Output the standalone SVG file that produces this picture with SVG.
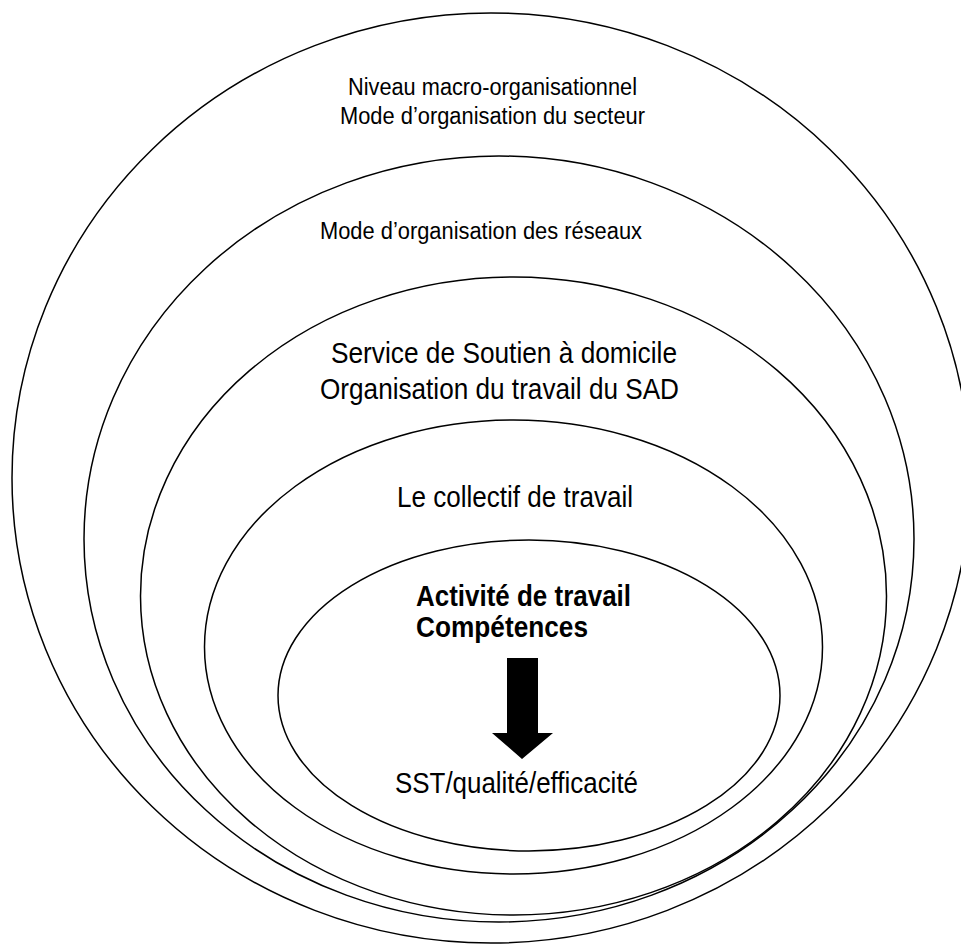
<svg xmlns="http://www.w3.org/2000/svg" width="961" height="945" viewBox="0 0 961 945">
  <style>
    .ring { fill: none; stroke: #000; stroke-width: 1.5; }
    .lbl { font-family: "Liberation Sans", Arial, sans-serif; fill: #000; }
    .c { text-anchor: middle; }
    .b { font-weight: bold; }
  </style>
  <rect x="0" y="0" width="961" height="945" fill="#fff"/>
  <g id="level-macro">
    <ellipse class="ring" cx="491" cy="478" rx="479" ry="465"/>
    <text class="lbl c" x="492.5" y="95" font-size="23" textLength="289" lengthAdjust="spacingAndGlyphs">Niveau macro-organisationnel</text>
    <text class="lbl c" x="492.5" y="124" font-size="23" textLength="305" lengthAdjust="spacingAndGlyphs">Mode d’organisation du secteur</text>
  </g>
  <g id="level-reseaux">
    <ellipse class="ring" cx="499" cy="539" rx="415" ry="383"/>
    <text class="lbl c" x="481" y="239" font-size="23" textLength="322" lengthAdjust="spacingAndGlyphs">Mode d’organisation des réseaux</text>
  </g>
  <g id="level-sad">
    <ellipse class="ring" cx="513.5" cy="596" rx="373" ry="319"/>
    <text class="lbl c" x="504" y="363" font-size="29" textLength="346" lengthAdjust="spacingAndGlyphs">Service de Soutien à domicile</text>
    <text class="lbl c" x="499.5" y="399" font-size="29" textLength="359" lengthAdjust="spacingAndGlyphs">Organisation du travail du SAD</text>
  </g>
  <g id="level-collectif">
    <ellipse class="ring" cx="513.5" cy="647" rx="309" ry="227"/>
    <text class="lbl c" x="515" y="507" font-size="29" textLength="236" lengthAdjust="spacingAndGlyphs">Le collectif de travail</text>
  </g>
  <g id="level-activite">
    <ellipse class="ring" cx="529" cy="695.5" rx="251" ry="155.5"/>
    <text class="lbl b" x="416" y="606" font-size="29" textLength="215" lengthAdjust="spacingAndGlyphs">Activité de travail</text>
    <text class="lbl b" x="416" y="637" font-size="29" textLength="172" lengthAdjust="spacingAndGlyphs">Compétences</text>
    <text class="lbl c" x="516.5" y="793" font-size="29" textLength="243" lengthAdjust="spacingAndGlyphs">SST/qualité/efficacité</text>
  </g>
  <g id="connectors">
    <polygon points="507,658 538,658 538,733 553,733 522,759 492,733 507,733" fill="#000"/>
  </g>
</svg>
